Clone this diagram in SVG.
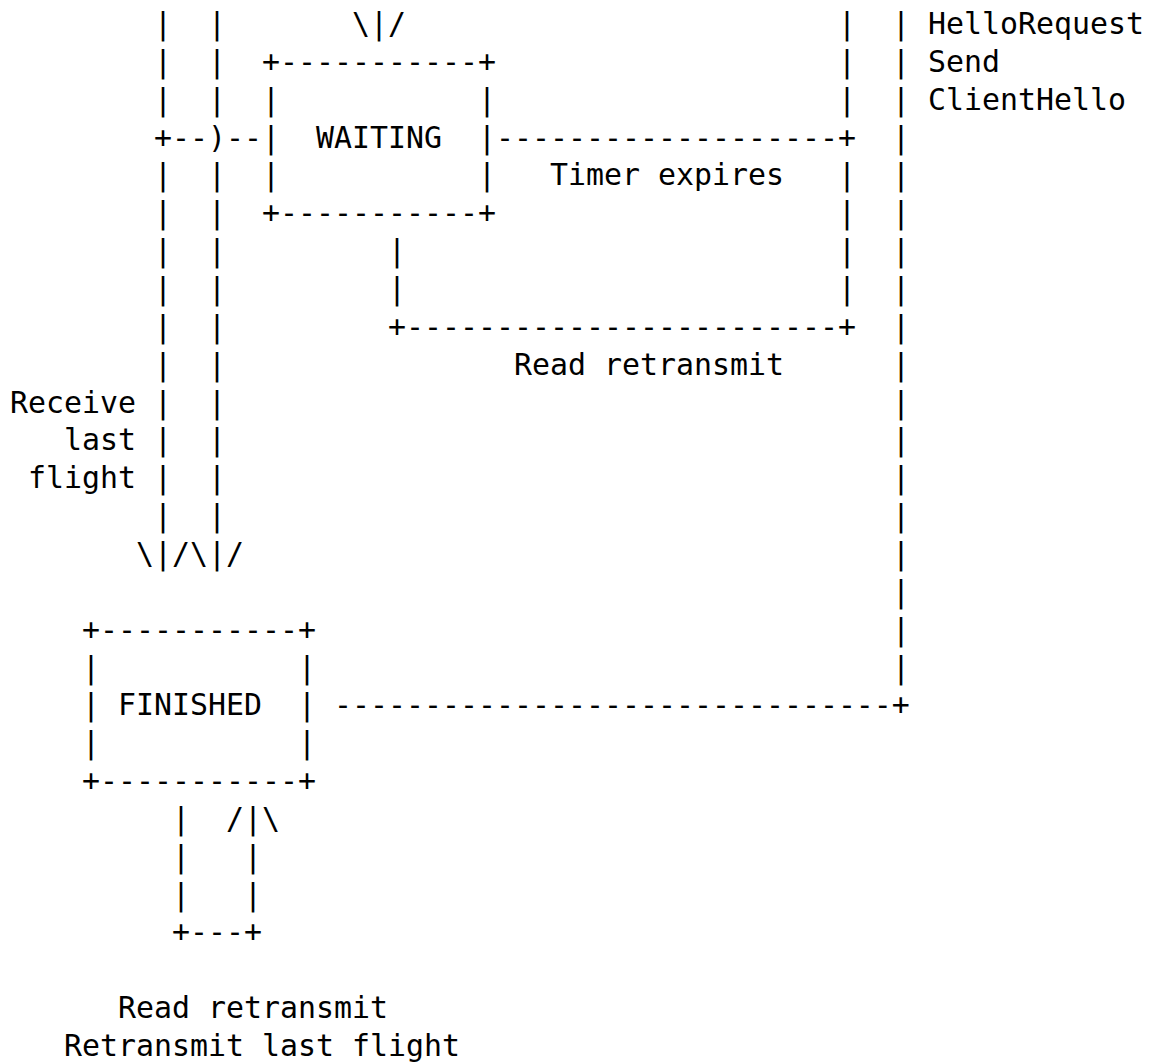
<svg xmlns="http://www.w3.org/2000/svg" width="1157" height="1064" viewBox="0 0 1157 1064">
<style>
.t{font-family:"DejaVu Sans Mono","Liberation Mono",monospace;font-size:29.9px;fill:#000}
</style>
<rect x="0" y="0" width="1157" height="1064" fill="#fff"/>
<g id="node-waiting" class="t">
<text x="262" y="71.9">+-----------+</text>
<text x="262 478" y="109.7 109.7">||</text>
<text x="262" y="147.6">|</text>
<text x="316" y="147.6">WAITING</text>
<text x="478" y="147.6">|</text>
<text x="262 478" y="185.4 185.4">||</text>
<text x="262" y="223.3">+-----------+</text>
</g>
<g id="node-finished" class="t">
<text x="82" y="639.6">+-----------+</text>
<text x="82 298" y="677.5 677.5">||</text>
<text x="82" y="715.3">|</text>
<text x="118" y="715.3">FINISHED</text>
<text x="298" y="715.3">|</text>
<text x="82 298" y="753.2 753.2">||</text>
<text x="82" y="791.0">+-----------+</text>
</g>
<g id="connectors" class="t">
<text x="154 154 154" y="34 71.9 109.7">|||</text>
<text x="154 154 154 154 154 154 154 154 154 154" y="185.4 223.3 261.1 299.0 336.8 374.7 412.5 450.4 488.2 526.1">||||||||||</text>
<text x="208 208 208" y="34 71.9 109.7">|||</text>
<text x="208 208 208 208 208 208 208 208 208 208" y="185.4 223.3 261.1 299.0 336.8 374.7 412.5 450.4 488.2 526.1">||||||||||</text>
<text x="154" y="147.6">+--)--</text>
<text x="352" y="34">\|/</text>
<text x="496" y="147.6">-------------------+</text>
<text x="838 838 838" y="34 71.9 109.7">|||</text>
<text x="838 838 838 838" y="185.4 223.3 261.1 299.0">||||</text>
<text x="388 388" y="261.1 299.0">||</text>
<text x="388" y="336.8">+------------------------+</text>
<text x="892 892 892 892 892 892 892 892 892 892 892 892 892 892 892 892 892 892" y="34 71.9 109.7 147.6 185.4 223.3 261.1 299.0 336.8 374.7 412.5 450.4 488.2 526.1 563.9 601.8 639.6 677.5">||||||||||||||||||</text>
<text x="136" y="563.9">\|/\|/</text>
<text x="334" y="715.3">-------------------------------+</text>
<text x="172" y="828.9">|</text>
<text x="226" y="828.9">/|\</text>
<text x="172 244" y="866.7 866.7">||</text>
<text x="172 244" y="904.6 904.6">||</text>
<text x="172" y="942.4">+---+</text>
</g>
<g id="labels" class="t">
<text x="928" y="34">HelloRequest</text>
<text x="928" y="71.9">Send</text>
<text x="928" y="109.7">ClientHello</text>
<text x="550" y="185.4">Timer expires</text>
<text x="514" y="374.7">Read retransmit</text>
<text x="10" y="412.5">Receive</text>
<text x="64" y="450.4">last</text>
<text x="28" y="488.2">flight</text>
<text x="118" y="1018.1">Read retransmit</text>
<text x="64" y="1056.0">Retransmit last flight</text>
</g>
</svg>
